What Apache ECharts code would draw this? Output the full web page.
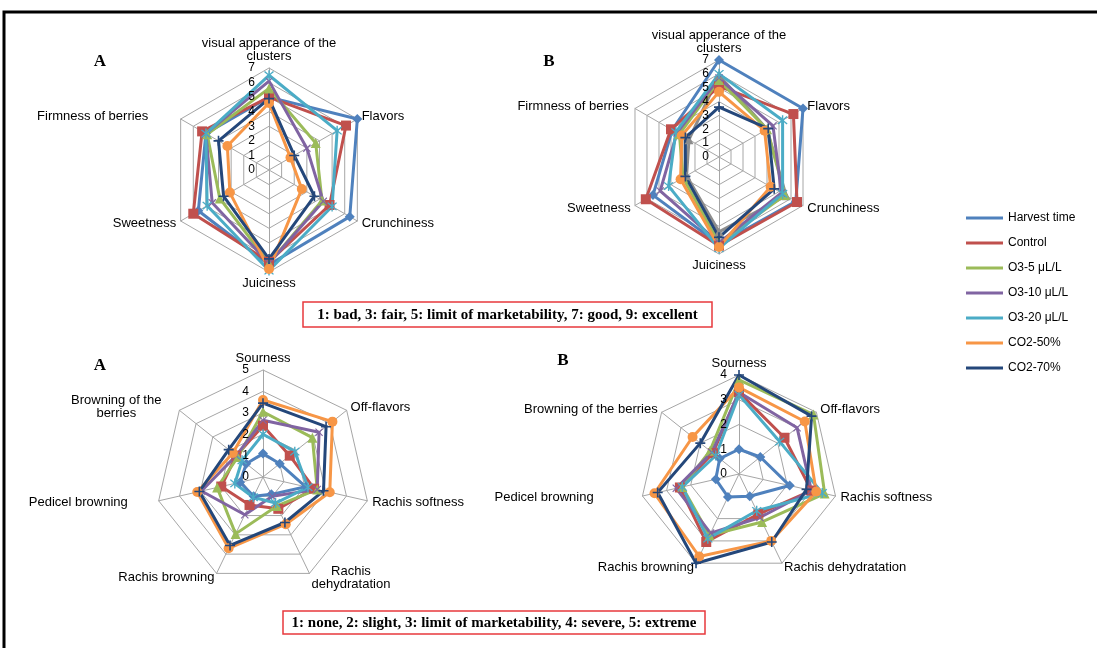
<!DOCTYPE html>
<html>
<head>
<meta charset="utf-8">
<script src="https://cdn.jsdelivr.net/npm/echarts@6/dist/echarts.min.js"></script>
<style>
html, body { margin: 0; padding: 0; background: #fff; }
#chart { width: 1097px; height: 648px; }
</style>
</head>
<body>
<div id="chart"></div>
<script>
const treatments = ['Harvest time', 'Control', 'O3-5 μL/L', 'O3-10 μL/L', 'O3-20 μL/L', 'CO2-50%', 'CO2-70%']

// axes listed clockwise from the top, as in the figure
const sensoryAxes = ['visual apperance of the\nclusters', 'Flavors', 'Crunchiness', 'Juiciness', 'Sweetness', 'Firmness of berries']
const defectAxesA = ['Sourness', 'Off-flavors', 'Rachis softness', 'Rachis\ndehydratation', 'Rachis browning', 'Pedicel browning', 'Browning of the\nberries']
const defectAxesB = ['Sourness', 'Off-flavors', 'Rachis softness', 'Rachis dehydratation', 'Rachis browning', 'Pedicel browning', 'Browning of the berries']

// rows follow the treatments order
const sensoryA = [
    [5.0, 7.0, 6.4, 6.5, 5.6, 5.0],
    [5.0, 6.1, 4.8, 6.3, 6.0, 5.3],
    [5.6, 3.7, 4.2, 6.4, 3.9, 4.9],
    [6.1, 3.0, 4.3, 6.4, 4.5, 5.0],
    [6.5, 5.4, 5.0, 6.9, 4.9, 5.0],
    [4.6, 1.7, 2.6, 6.8, 3.1, 3.3],
    [4.9, 2.0, 3.6, 6.1, 3.6, 4.0]
]
const sensoryB = [
    [7.0, 7.0, 6.4, 6.3, 5.5, 3.9],
    [5.1, 6.2, 6.5, 6.4, 6.1, 4.0],
    [5.55, 4.0, 5.5, 6.2, 3.0, 3.3],
    [5.7, 4.5, 5.2, 6.2, 4.9, 3.5],
    [6.0, 5.3, 5.3, 6.6, 4.2, 3.6],
    [4.7, 3.8, 4.3, 6.5, 3.2, 3.1],
    [3.6, 4.1, 4.6, 5.8, 2.8, 2.8]
]
// extra grey series drawn in panel B without a legend entry
const sensoryBGrey = [5.9, 4.0, 5.6, 5.4, 2.7, 2.5]

const defectA = [
    [1.1, 1.0, 2.05, 0.9, 1.0, 1.1, 1.0],
    [2.4, 1.6, 2.45, 1.65, 1.45, 2.0, 1.6],
    [3.05, 2.95, 2.6, 1.5, 2.95, 2.2, 1.5],
    [2.65, 3.35, 2.6, 1.0, 1.96, 2.95, 1.6],
    [2.0, 1.9, 2.15, 1.35, 1.05, 1.35, 1.25],
    [3.6, 4.15, 3.2, 2.45, 3.7, 3.15, 1.8],
    [3.45, 3.77, 2.9, 2.36, 3.55, 3.05, 2.05]
]
const defectB = [
    [1.0, 1.1, 2.1, 1.0, 1.03, 0.96, 1.0],
    [3.3, 2.35, 3.0, 1.8, 3.05, 2.45, 1.35],
    [3.8, 3.85, 3.55, 2.15, 2.75, 2.35, 1.5],
    [3.3, 3.0, 3.0, 1.95, 2.65, 2.6, 1.4],
    [3.2, 2.1, 3.45, 1.65, 2.9, 2.35, 1.2],
    [3.5, 3.4, 3.2, 3.0, 3.7, 3.5, 2.4],
    [4.0, 3.75, 2.8, 3.05, 4.0, 3.37, 2.0]
]

const colors = ['#4F81BD', '#C0504D', '#9BBB59', '#8064A2', '#4BACC6', '#F79646', '#24477A']
const xMark = 'path://M1,0 L5,4 L9,0 L10,1 L6,5 L10,9 L9,10 L5,6 L1,10 L0,9 L4,5 L0,1 Z'
const starMark = 'path://M1,0 L5,4 L9,0 L10,1 L6,5 L10,9 L9,10 L5,6 L1,10 L0,9 L4,5 L0,1 Z M4.3,-1 L5.7,-1 L5.7,11 L4.3,11 Z'
const plusMark = 'path://M4.2,0 L5.8,0 L5.8,4.2 L10,4.2 L10,5.8 L5.8,5.8 L5.8,10 L4.2,10 L4.2,5.8 L0,5.8 L0,4.2 L4.2,4.2 Z'
const symbols = ['diamond', 'rect', 'triangle', xMark, starMark, 'circle', plusMark]
const symbolSizes = [10, 10, 10, 8, 10, 10, 10]

const FONT = 'Liberation Sans, Arial, sans-serif'
const SERIF = 'Liberation Serif, Times New Roman, serif'

// ECharts radar runs counter-clockwise: keep the first axis, reverse the rest
const cw = arr => [arr[0], ...arr.slice(1).reverse()]

const panels = [
    { center: [269, 170], radius: 102, max: 7, names: sensoryAxes, padR: { 'Firmness of berries': 28 }, labelMargin: 14 },
    { center: [719, 157], radius: 97, max: 7, names: sensoryAxes, padR: { 'Firmness of berries': 2 }, labelMargin: 10 },
    { center: [263, 477], radius: 107, max: 5, names: defectAxesA, padR: { 'Pedicel browning': 26, 'Browning of the\nberries': 14 }, labelMargin: 14 },
    { center: [739, 474], radius: 99, max: 4, names: defectAxesB, padR: { 'Pedicel browning': 44 }, labelMargin: 12 }
]

const chart = echarts.init(document.getElementById('chart'))

const radars = panels.map(p => ({
    center: p.center,
    radius: p.radius,
    startAngle: 90,
    shape: 'polygon',
    splitNumber: p.max,
    indicator: cw(p.names).map(n => ({ name: n, min: 0, max: p.max })),
    nameGap: 5,
    axisName: {
        color: '#000',
        fontSize: 13,
        fontFamily: FONT,
        formatter: (name) => {
            const pad = p.padR[name] || 0
            return name.split('\n').map(l => `{${pad ? 'p' + pad : 'c'}|${l}}`).join('\n')
        },
        rich: Object.assign(
            { c: { align: 'center', fontSize: 13, fontFamily: FONT, color: '#000' } },
            ...Object.values(p.padR).map(v => ({ ['p' + v]: { align: 'center', fontSize: 13, fontFamily: FONT, color: '#000', padding: [0, v, 0, 0] } }))
        )
    },
    splitLine: { lineStyle: { color: '#A6A6A6', width: 1 } },
    splitArea: { show: false },
    axisLine: { lineStyle: { color: '#A6A6A6', width: 1 } },
    axisTick: { show: false },
    axisLabel: { show: false }
}))

const series = []
const panelData = [sensoryA, sensoryB, defectA, defectB]
panelData.forEach((rows, pi) => {
    if (pi === 1) {
        series.push({
            type: 'radar', radarIndex: 1, name: 'grey',
            symbol: 'triangle', symbolSize: 9,
            lineStyle: { width: 3, color: '#8C8C8C' },
            itemStyle: { color: '#8C8C8C' },
            emphasis: { disabled: true },
            data: [{ name: 'grey', value: cw(sensoryBGrey) }]
        })
    }
    rows.forEach((vals, ti) => {
        series.push({
            type: 'radar',
            radarIndex: pi,
            name: treatments[ti],
            symbol: symbols[ti],
            symbolSize: symbolSizes[ti],
            lineStyle: { width: 3, color: colors[ti] },
            itemStyle: { color: colors[ti] },
            emphasis: { disabled: true },
            data: [{ name: treatments[ti], value: cw(vals) }]
        })
    })
})

const letter = (text, x, y) => ({
    type: 'text', x, y,
    style: { text, font: `bold 17px ${SERIF}`, fill: '#000', textAlign: 'center', textVerticalAlign: 'middle' }
})
const noteBox = (text, x, y, w, h) => ({
    type: 'group',
    children: [
        { type: 'rect', shape: { x, y, width: w, height: h }, style: { fill: '#fff', stroke: '#E8383D', lineWidth: 1.5 } },
        { type: 'text', x: x + w / 2, y: y + h / 2 + 1, style: { text, font: `bold 15px ${SERIF}`, fill: '#000', textAlign: 'center', textVerticalAlign: 'middle' } }
    ]
})

chart.setOption({
    animation: false,
    backgroundColor: '#fff',
    legend: {
        data: treatments,
        orient: 'vertical',
        left: 961,
        top: 207,
        icon: 'rect',
        itemWidth: 37,
        itemHeight: 3,
        itemGap: 13,
        selectedMode: false,
        textStyle: { color: '#000', fontSize: 12, fontFamily: FONT }
    },
    radar: radars,
    polar: panels.map(p => ({ center: p.center, radius: p.radius })),
    angleAxis: panels.map((p, i) => ({ polarIndex: i, type: 'value', min: 0, max: 360, startAngle: 90, show: false })),
    radiusAxis: panels.map((p, i) => ({
        polarIndex: i, type: 'value', min: 0, max: p.max, interval: 1, z: 10,
        axisLine: { show: false }, axisTick: { show: false }, splitLine: { show: false },
        axisLabel: { color: '#000', fontSize: 12, fontFamily: FONT, margin: p.labelMargin }
    })),
    series,
    graphic: [
        { type: 'rect', shape: { x: 4, y: 12, width: 1200, height: 700 }, style: { fill: 'none', stroke: '#000', lineWidth: 3 }, z: 100 },
        letter('A', 100, 62),
        letter('B', 549, 62),
        letter('A', 100, 366),
        letter('B', 563, 361),
        noteBox('1: bad, 3: fair, 5: limit of marketability, 7: good, 9: excellent', 303, 302, 409, 25),
        noteBox('1: none, 2: slight, 3: limit of marketability, 4: severe, 5: extreme', 283, 611, 422, 23)
    ]
})
</script>
</body>
</html>
